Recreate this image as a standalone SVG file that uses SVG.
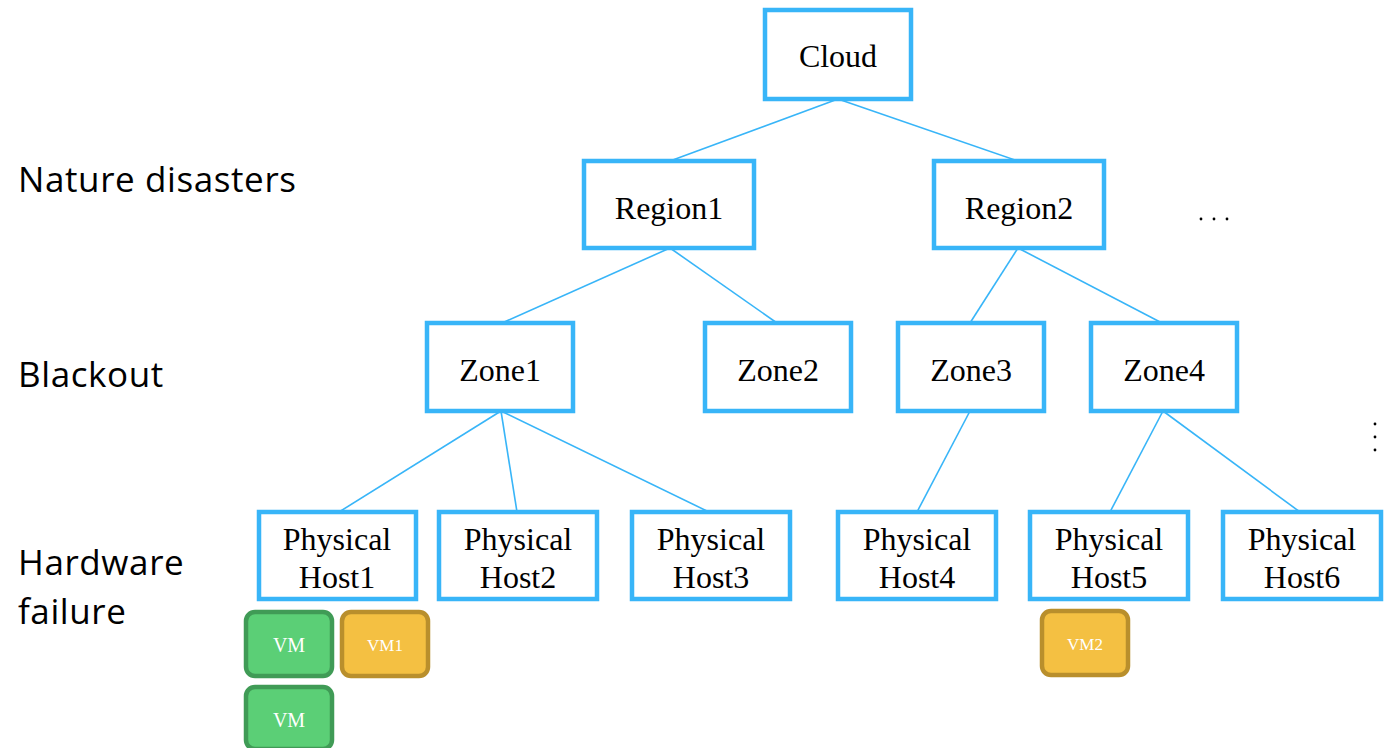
<svg xmlns="http://www.w3.org/2000/svg" width="1385" height="748" viewBox="0 0 1385 748">
<style>
.n{fill:#fff;stroke:#38b5f8;stroke-width:4.5}
.t{font-family:"Liberation Serif",serif;font-size:32px;fill:#000;text-anchor:middle}
.l{font-family:"Open Sans","Liberation Sans",sans-serif;font-size:35px;letter-spacing:0.6px;fill:#000}
.c line{stroke:#38b5f8;stroke-width:1.6}
.g{fill:#5bcf76;stroke:#409b56;stroke-width:4.5}
.y{fill:#f4c042;stroke:#b98f2c;stroke-width:4.5}
.v{font-family:"Liberation Serif",serif;fill:#fff;text-anchor:middle}
</style>
<rect width="1385" height="748" fill="#fff"/>
<g class="c">
<line x1="838" y1="99" x2="670" y2="161"/>
<line x1="838" y1="99" x2="1018" y2="161"/>
<line x1="670" y1="248" x2="502" y2="323"/>
<line x1="670" y1="248" x2="777" y2="323"/>
<line x1="1018" y1="248" x2="970" y2="323"/>
<line x1="1018" y1="248" x2="1162" y2="323"/>
<line x1="501" y1="411" x2="339" y2="512"/>
<line x1="501" y1="411" x2="517" y2="512"/>
<line x1="501" y1="411" x2="709" y2="512"/>
<line x1="970" y1="411" x2="917" y2="512"/>
<line x1="1163" y1="411" x2="1110" y2="512"/>
<line x1="1163" y1="411" x2="1300" y2="512"/>
</g>
<g id="cloud"><rect class="n" x="765" y="10" width="146" height="89"/><text class="t" x="838" y="67">Cloud</text></g>
<g id="region1"><rect class="n" x="584" y="161" width="170" height="87"/><text class="t" x="669" y="219">Region1</text></g>
<g id="region2"><rect class="n" x="934" y="161" width="170" height="87"/><text class="t" x="1019" y="219">Region2</text></g>
<g id="zone1"><rect class="n" x="427" y="323" width="146" height="88"/><text class="t" x="500" y="381">Zone1</text></g>
<g id="zone2"><rect class="n" x="705" y="323" width="146" height="88"/><text class="t" x="778" y="381">Zone2</text></g>
<g id="zone3"><rect class="n" x="898" y="323" width="146" height="88"/><text class="t" x="971" y="381">Zone3</text></g>
<g id="zone4"><rect class="n" x="1091" y="323" width="146" height="88"/><text class="t" x="1164" y="381">Zone4</text></g>
<g id="host1"><rect class="n" x="259" y="512" width="157" height="87"/><text class="t" x="337" y="550">Physical</text><text class="t" x="337" y="588">Host1</text></g>
<g id="host2"><rect class="n" x="439" y="512" width="158" height="87"/><text class="t" x="518" y="550">Physical</text><text class="t" x="518" y="588">Host2</text></g>
<g id="host3"><rect class="n" x="632" y="512" width="158" height="87"/><text class="t" x="711" y="550">Physical</text><text class="t" x="711" y="588">Host3</text></g>
<g id="host4"><rect class="n" x="838" y="512" width="158" height="87"/><text class="t" x="917" y="550">Physical</text><text class="t" x="917" y="588">Host4</text></g>
<g id="host5"><rect class="n" x="1030" y="512" width="158" height="87"/><text class="t" x="1109" y="550">Physical</text><text class="t" x="1109" y="588">Host5</text></g>
<g id="host6"><rect class="n" x="1223" y="512" width="158" height="87"/><text class="t" x="1302" y="550">Physical</text><text class="t" x="1302" y="588">Host6</text></g>
<g id="vm-a"><rect class="g" x="246" y="612" width="86" height="64" rx="9"/><text class="v" x="289" y="652" font-size="20">VM</text></g>
<g id="vm1"><rect class="y" x="342" y="612" width="86" height="64" rx="9"/><text class="v" x="385" y="651" font-size="17">VM1</text></g>
<g id="vm-b"><rect class="g" x="246" y="687" width="86" height="62" rx="9"/><text class="v" x="289" y="727" font-size="20">VM</text></g>
<g id="vm2"><rect class="y" x="1042" y="611" width="86" height="64" rx="9"/><text class="v" x="1085" y="650" font-size="17">VM2</text></g>
<text class="l" x="18" y="192">Nature disasters</text>
<text class="l" x="18" y="387">Blackout</text>
<text class="l" x="18" y="575">Hardware</text>
<text class="l" x="18" y="624">failure</text>
<g fill="#000"><circle cx="1201" cy="219" r="1.4"/><circle cx="1214" cy="219" r="1.4"/><circle cx="1227" cy="219" r="1.4"/>
<circle cx="1375" cy="424" r="1.4"/><circle cx="1375" cy="437" r="1.4"/><circle cx="1375" cy="450" r="1.4"/></g>
</svg>
